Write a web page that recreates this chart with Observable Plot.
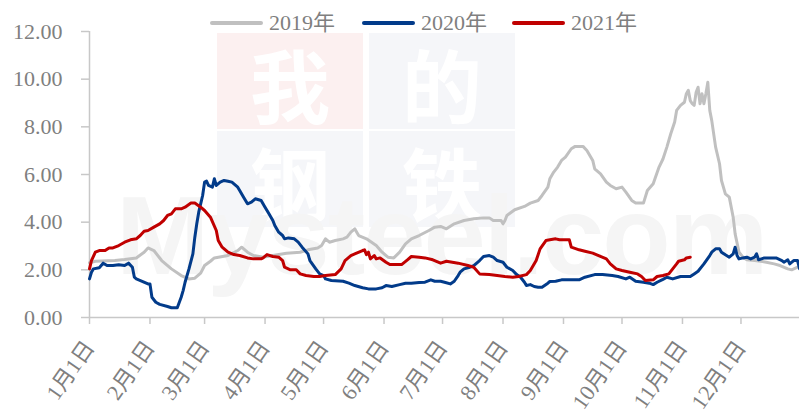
<!DOCTYPE html>
<html><head><meta charset="utf-8">
<script src="https://cdn.jsdelivr.net/npm/d3@7"></script>
<script src="https://cdn.jsdelivr.net/npm/@observablehq/plot@0.6"></script>
<style>
body{margin:0;background:#fff;}
#wrap{position:relative;width:799px;height:412px;overflow:hidden;font-family:"Liberation Serif","Noto Sans CJK SC",serif;}
.wmbox{position:absolute;width:146px;height:96px;}
.wmch{position:absolute;width:146px;text-align:center;color:#fff;font-family:"Noto Sans CJK SC",sans-serif;font-weight:700;font-size:80px;line-height:80px;}
#mys{position:absolute;left:116px;top:180px;font-family:"Liberation Sans",sans-serif;font-weight:bold;font-size:112px;line-height:112px;color:#f5f5f5;letter-spacing:-2px;white-space:nowrap;}
#chart{position:absolute;left:0;top:0;}
.leg{position:absolute;top:11px;height:24px;display:flex;align-items:center;font-size:22px;line-height:24px;color:#7f7f7f;}
.leg span.ln{display:inline-block;width:53px;height:4px;margin-right:6px;border-radius:2px;}
</style></head>
<body><div id="wrap"></div>
<script>
// ---- data (day of year from Jan 1, value) ----
const seriesNames = ["2019年", "2020年", "2021年"];
const seriesColors = ["#c0c0c0", "#023b8a", "#c00000"];
const monthLabels = ["1月1日","2月1日","3月1日","4月1日","5月1日","6月1日","7月1日","8月1日","9月1日","10月1日","11月1日","12月1日"];
const yTicks = [0, 2, 4, 6, 8, 10, 12];

const s2019 = [[0,2.30],[3,2.36],[13,2.39],[18,2.43],[24,2.50],[28,2.74],[30,2.92],[33,2.81],[37,2.39],[42,2.04],[47,1.76],[51,1.62],[54,1.65],[57,1.86],[59,2.18],[62,2.36],[64,2.50],[71,2.60],[76,2.81],[78,2.95],[81,2.74],[84,2.60],[89,2.53],[94,2.60],[101,2.70],[108,2.74],[112,2.84],[117,2.92],[119,3.02],[121,3.30],[123,3.16],[126,3.23],[130,3.30],[132,3.37],[134,3.58],[136,3.72],[137,3.58],[138,3.44],[142,3.30],[147,3.02],[150,2.74],[153,2.53],[156,2.50],[159,2.74],[162,3.09],[165,3.30],[169,3.44],[174,3.65],[177,3.79],[180,3.82],[183,3.72],[187,3.93],[192,4.07],[197,4.14],[202,4.18],[205,4.18],[207,4.07],[211,4.07],[212,3.93],[213,4.07],[214,4.28],[218,4.52],[223,4.66],[226,4.80],[230,4.91],[232,5.12],[235,5.47],[236,5.82],[238,6.10],[240,6.31],[242,6.59],[244,6.73],[247,7.08],[249,7.18],[253,7.18],[255,7.01],[258,6.59],[259,6.24],[262,6.03],[265,5.68],[267,5.54],[270,5.40],[273,5.47],[275,5.26],[278,4.91],[280,4.80],[284,4.80],[286,5.33],[289,5.61],[292,6.31],[294,6.65],[296,7.15],[298,7.71],[300,8.20],[301,8.69],[303,8.90],[305,9.03],[306,9.39],[307,9.53],[308,9.10],[309,8.97],[310,8.90],[311,9.45],[312,9.66],[313,8.97],[314,9.39],[315,8.97],[316,9.39],[317,9.87],[318,8.69],[319,8.27],[321,7.15],[323,6.45],[324,5.75],[326,5.19],[328,5.05],[330,4.21],[331,3.51],[333,2.74],[335,2.53],[337,2.42],[341,2.39],[344,2.36],[347,2.32],[351,2.25],[354,2.18],[358,2.04],[360,2.00],[363,2.11],[364,2.11]];

const s2020 = [[0,1.62],[1,1.90],[2,2.04],[5,2.09],[7,2.28],[9,2.18],[12,2.18],[15,2.21],[18,2.18],[20,2.28],[22,2.11],[23,1.69],[24,1.62],[27,1.52],[30,1.41],[31,1.41],[32,0.85],[34,0.64],[36,0.55],[40,0.46],[42,0.41],[45,0.41],[47,0.85],[48,1.13],[49,1.48],[51,2.04],[53,2.67],[54,3.37],[55,3.93],[56,4.42],[57,4.77],[58,5.12],[59,5.68],[60,5.72],[61,5.54],[63,5.47],[64,5.82],[65,5.54],[67,5.68],[69,5.75],[71,5.72],[73,5.68],[76,5.47],[77,5.33],[79,5.05],[81,4.77],[83,4.84],[85,4.98],[88,4.91],[90,4.63],[92,4.35],[94,4.07],[95,3.86],[97,3.58],[99,3.44],[100,3.30],[102,3.34],[105,3.30],[107,3.16],[109,2.95],[112,2.67],[113,2.39],[116,2.04],[118,1.83],[120,1.76],[121,1.62],[124,1.55],[130,1.52],[133,1.44],[136,1.34],[140,1.25],[143,1.20],[147,1.20],[150,1.25],[152,1.34],[155,1.30],[159,1.38],[162,1.44],[165,1.44],[169,1.47],[172,1.48],[175,1.58],[177,1.52],[180,1.52],[182,1.48],[185,1.41],[187,1.52],[189,1.76],[190,1.90],[192,2.04],[195,2.11],[197,2.18],[200,2.39],[202,2.56],[205,2.60],[207,2.53],[209,2.39],[212,2.32],[214,2.11],[217,1.97],[219,1.80],[221,1.69],[223,1.48],[224,1.34],[226,1.38],[228,1.30],[230,1.27],[232,1.27],[235,1.44],[236,1.51],[239,1.52],[242,1.58],[246,1.58],[251,1.58],[254,1.69],[259,1.80],[263,1.80],[268,1.76],[271,1.72],[275,1.62],[277,1.69],[280,1.52],[284,1.48],[287,1.44],[289,1.38],[291,1.48],[294,1.60],[296,1.69],[299,1.62],[303,1.72],[308,1.72],[310,1.83],[312,1.94],[315,2.25],[318,2.60],[319,2.74],[321,2.88],[323,2.88],[324,2.74],[326,2.63],[328,2.53],[330,2.67],[331,2.95],[332,2.60],[333,2.46],[335,2.50],[337,2.53],[339,2.46],[341,2.53],[342,2.67],[343,2.42],[346,2.50],[349,2.50],[352,2.50],[355,2.39],[356,2.32],[358,2.42],[359,2.25],[361,2.39],[363,2.39],[364,2.05]];

const s2021 = [[0,2.04],[1,2.39],[3,2.74],[5,2.81],[8,2.81],[10,2.92],[12,2.92],[15,3.02],[18,3.16],[21,3.26],[24,3.30],[26,3.44],[28,3.62],[30,3.65],[33,3.79],[36,3.93],[38,4.07],[40,4.28],[42,4.35],[44,4.56],[47,4.56],[49,4.63],[52,4.80],[54,4.80],[57,4.63],[59,4.49],[62,4.21],[65,3.65],[66,3.23],[68,2.95],[71,2.74],[74,2.64],[77,2.60],[81,2.50],[84,2.46],[88,2.46],[89,2.50],[91,2.64],[94,2.56],[97,2.53],[99,2.39],[100,2.11],[103,2.00],[106,2.00],[108,1.83],[111,1.76],[115,1.72],[118,1.72],[121,1.76],[126,1.80],[129,2.04],[131,2.39],[134,2.60],[136,2.67],[140,2.81],[141,2.84],[142,2.64],[143,2.74],[144,2.46],[146,2.60],[147,2.46],[149,2.50],[152,2.32],[154,2.22],[158,2.22],[160,2.22],[163,2.42],[165,2.56],[169,2.53],[172,2.50],[176,2.42],[180,2.28],[183,2.36],[189,2.28],[194,2.18],[197,2.11],[200,1.83],[205,1.80],[209,1.76],[213,1.72],[217,1.69],[220,1.72],[224,1.80],[226,1.97],[229,2.39],[231,2.88],[234,3.23],[236,3.26],[239,3.30],[241,3.26],[246,3.26],[247,2.95],[251,2.84],[254,2.78],[258,2.70],[261,2.60],[265,2.46],[267,2.25],[270,2.04],[273,1.97],[277,1.90],[281,1.83],[283,1.72],[285,1.55],[289,1.58],[291,1.72],[294,1.76],[297,1.83],[299,2.04],[301,2.25],[302,2.36],[305,2.42],[306,2.50],[308,2.53]];

// ---- build ----
const base = new Date(Date.UTC(2019, 0, 1));
const toDate = d => d3.utcDay.offset(base, d);
const rows = [];
[s2019, s2020, s2021].forEach((s, i) => s.forEach(([d, v]) => rows.push({date: toDate(d), value: v, series: seriesNames[i]})));
const monthTicks = monthLabels.map((_, m) => new Date(Date.UTC(2019, m, 1)));

const wrap = document.getElementById("wrap");
// watermark background
const wmDefs = [["我", 217, 33, "#fcf0f0"], ["的", 369, 33, "#f5f6f9"], ["钢", 217, 131, "#f5f6f9"], ["铁", 369, 131, "#f5f6f9"]];
wmDefs.forEach(([c, l, t, bg]) => {
  const b = document.createElement("div");
  b.className = "wmbox";
  Object.assign(b.style, {left: l + "px", top: t + "px", background: bg});
  wrap.appendChild(b);
  const g = document.createElement("div");
  g.className = "wmch"; g.textContent = c;
  Object.assign(g.style, {left: l + "px", top: (t + 9) + "px"});
  wrap.appendChild(g);
});
const mys = document.createElement("div"); mys.id = "mys"; mys.textContent = "Mysteel.com"; wrap.appendChild(mys);

const axisColor = "#c8c8c8", textColor = "#7f7f7f";
const chart = Plot.plot({
  width: 799, height: 412,
  marginLeft: 89, marginRight: 0, marginTop: 31, marginBottom: 95,
  style: {background: "transparent", fontFamily: '"Liberation Serif","Noto Sans CJK SC",serif', fontSize: "22px", overflow: "visible"},
  x: {type: "utc", domain: [base, toDate(364)]},
  y: {domain: [0, 12]},
  marks: [
    Plot.ruleY([0], {stroke: axisColor, strokeWidth: 1.5}),
    Plot.ruleX([base], {y1: 0, y2: 12, stroke: axisColor, strokeWidth: 1.5}),
    Plot.axisY({ticks: yTicks, tickFormat: d3.format(".2f"), tickSize: 8, tickPadding: 19, stroke: axisColor, strokeWidth: 1.5, fill: textColor, label: null}),
    Plot.axisX({ticks: monthTicks, tickFormat: d => monthLabels[d.getUTCMonth()], tickSize: 7, tickPadding: 19, tickRotate: -55, stroke: axisColor, strokeWidth: 1.5, fill: textColor, label: null}),
    Plot.line(rows, {x: "date", y: "value", z: "series", stroke: "series", strokeWidth: 3, strokeLinejoin: "round"})
  ],
  color: {domain: seriesNames, range: seriesColors}
});
chart.id = "chart";
wrap.appendChild(chart);

// legend
const legLeft = [210, 362, 512];
seriesNames.forEach((n, i) => {
  const d = document.createElement("div");
  d.className = "leg"; d.style.left = legLeft[i] + "px";
  d.innerHTML = `<span class="ln" style="background:${seriesColors[i]}"></span><span>${n}</span>`;
  wrap.appendChild(d);
});
</script></body></html>
